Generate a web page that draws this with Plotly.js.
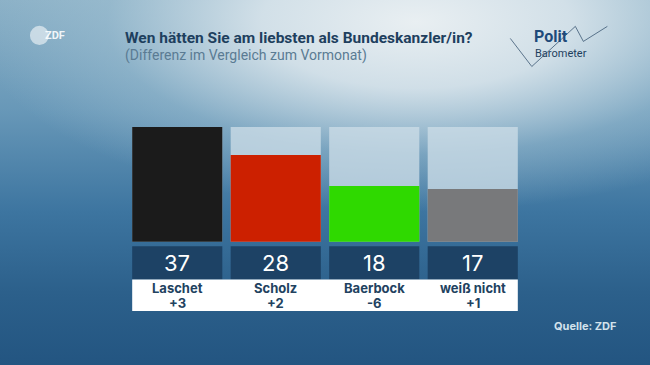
<!DOCTYPE html>
<html>
<head>
<meta charset="utf-8">
<script src="https://cdn.plot.ly/plotly-3.0.1.min.js"></script>
<style>
  html, body { margin: 0; padding: 0; }
  #chart {
    width: 650px; height: 365px;
    background:
      radial-gradient(ellipse 68% 52% at 64% 6%, rgba(233,239,242,1) 0%, rgba(216,228,235,0.92) 35%, rgba(165,196,213,0.45) 70%, rgba(120,160,190,0) 100%),
      linear-gradient(180deg, #8ab0c6 0%, #6898b8 30%, #3d75a0 58%, #2c608b 80%, #235581 100%);
  }
</style>
</head>
<body>
<div id="chart"></div>
<script>
// ---- data ----
const categories = ['Laschet', 'Scholz', 'Baerbock', 'weiß nicht'];
const values = [37, 28, 18, 17];
const diffs = ['+3', '+2', '-6', '+1'];
const barColors = ['#1b1b1b', '#cc2000', '#2fd900', '#78797b'];

const title = 'Wen hätten Sie am liebsten als Bundeskanzler/in?';
const subtitle = '(Differenz im Vergleich zum Vormonat)';
const source = 'Quelle: ZDF';

// ---- geometry ----
const W = 650, H = 365;
const L = 128, R = 128.3, T = 127.3, B = 54.3;
const PW = W - L - R, PH = H - T - B;
const yMin = -22.3, yMax = Math.max(...values);
const bargap = 0.085;
const boxTop = -1.4, boxBottom = -12.15;
const px = x => (x - L) / PW;
const py = y => (H - B - y) / PH;

const traces = [
  { type: 'bar', x: categories, y: categories.map(() => yMax),
    marker: { color: 'rgba(204,221,231,0.78)' }, hoverinfo: 'skip' },
  { type: 'bar', x: categories, y: values,
    marker: { color: barColors }, hoverinfo: 'x+y' },
  { type: 'bar', x: categories, y: categories.map(() => boxBottom - boxTop), base: boxTop,
    marker: { color: '#1d4265' }, hoverinfo: 'skip' }
];

const annotations = [];
categories.forEach((c, i) => {
  annotations.push({ x: c, y: (boxTop + boxBottom) / 2, xref: 'x', yref: 'y', text: String(values[i]),
    showarrow: false, font: { family: 'Inter, Roboto, sans-serif', size: 22, color: '#ffffff' }, yanchor: 'middle' });
  annotations.push({ x: c, y: -14.97, xref: 'x', yref: 'y', text: '<b>' + c + '</b>',
    showarrow: false, font: { family: 'Inter, Roboto, sans-serif', size: 13, color: '#22425f' }, yanchor: 'middle' });
  annotations.push({ x: c, y: -19.66, xref: 'x', yref: 'y', text: '<b>' + diffs[i] + '</b>',
    showarrow: false, font: { family: 'Inter, Roboto, sans-serif', size: 13, color: '#22425f' }, yanchor: 'middle' });
});
annotations.push(
  { x: px(123), y: py(38.5), xref: 'paper', yref: 'paper', xanchor: 'left', yanchor: 'middle',
    text: '<b>' + title + '</b>', showarrow: false,
    font: { family: 'Roboto, sans-serif', size: 15.5, color: '#1e3f5e' } },
  { x: px(123), y: py(56.5), xref: 'paper', yref: 'paper', xanchor: 'left', yanchor: 'middle',
    text: subtitle, showarrow: false,
    font: { family: 'Roboto, sans-serif', size: 14, color: '#5a7b93' } },
  { x: px(618), y: py(326), xref: 'paper', yref: 'paper', xanchor: 'right', yanchor: 'middle',
    text: '<b>' + source + '</b>', showarrow: false,
    font: { family: 'Inter, Roboto, sans-serif', size: 11, color: '#d3e2ec' } },
  { x: px(43), y: py(36), xref: 'paper', yref: 'paper', xanchor: 'left', yanchor: 'middle',
    text: '<b>ZDF</b>', showarrow: false,
    font: { family: 'Roboto, sans-serif', size: 11, color: 'rgba(255,255,255,0.9)' } },
  { x: px(532), y: py(37.5), xref: 'paper', yref: 'paper', xanchor: 'left', yanchor: 'middle',
    text: '<b>Polit</b>', showarrow: false,
    font: { family: 'Roboto, sans-serif', size: 16, color: '#1e4a7a' } },
  { x: px(532.5), y: py(54.5), xref: 'paper', yref: 'paper', xanchor: 'left', yanchor: 'middle',
    text: 'Barometer', showarrow: false,
    font: { family: 'Roboto, sans-serif', size: 11, color: '#1e3f5e' } }
);

const zig = [[510, 39], [531.5, 67], [575, 27], [583, 42], [607, 27]];
const zigPath = zig.map((p, i) => (i ? 'L' : 'M') + px(p[0]) + ',' + py(p[1])).join(' ');

const shapes = [
  { type: 'rect', xref: 'x', yref: 'y', x0: -0.5 + bargap / 2, x1: categories.length - 0.5 - bargap / 2,
    y0: yMin, y1: boxBottom, fillcolor: '#ffffff', line: { width: 0 } },
  { type: 'circle', xref: 'paper', yref: 'paper', x0: px(30), x1: px(49), y0: py(45.5), y1: py(26.5),
    fillcolor: 'rgba(255,255,255,0.55)', line: { width: 0 }, layer: 'below' },
  { type: 'path', xref: 'paper', yref: 'paper', path: zigPath,
    line: { color: 'rgba(40,70,100,0.7)', width: 1 } }
];

const layout = {
  width: W, height: H,
  margin: { l: L, r: R, t: T, b: B },
  paper_bgcolor: 'rgba(0,0,0,0)', plot_bgcolor: 'rgba(0,0,0,0)',
  barmode: 'overlay', bargap: bargap,
  showlegend: false,
  xaxis: { type: 'category', range: [-0.5, categories.length - 0.5], visible: false, fixedrange: true },
  yaxis: { range: [yMin, yMax], visible: false, fixedrange: true },
  annotations: annotations,
  shapes: shapes
};

Plotly.newPlot('chart', traces, layout, { displayModeBar: false, staticPlot: true });
</script>
</body>
</html>
